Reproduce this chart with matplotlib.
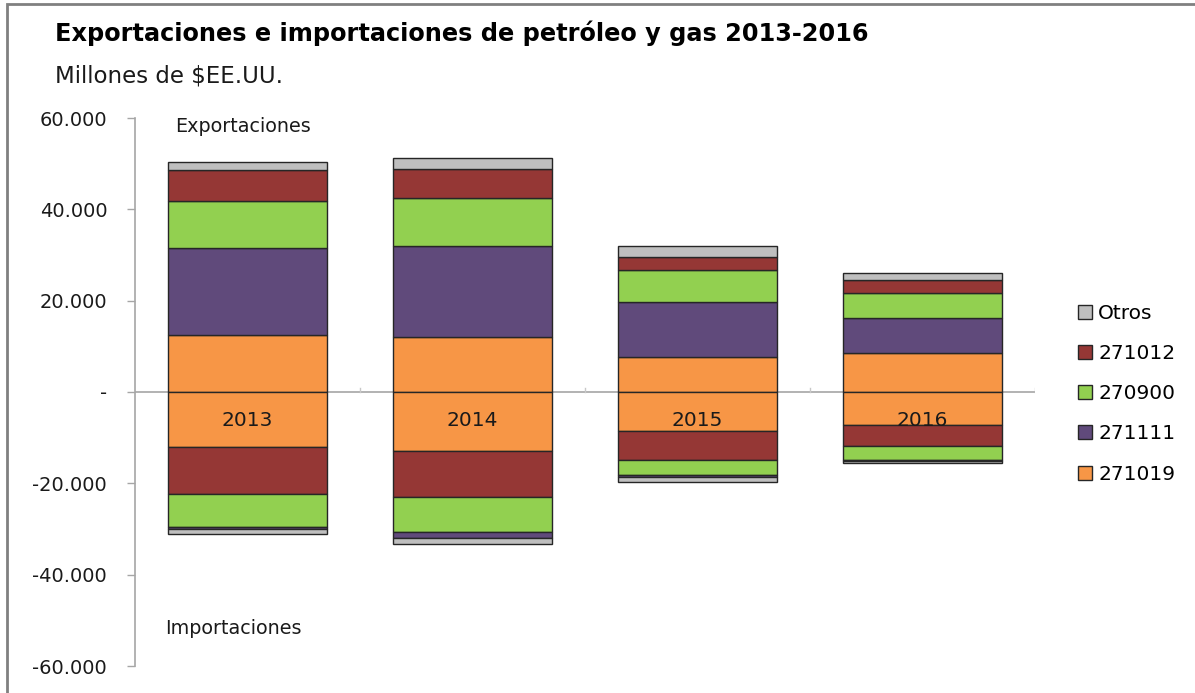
import matplotlib
matplotlib.use("Agg")
import matplotlib.pyplot as plt
from matplotlib.ticker import FuncFormatter
from matplotlib.patches import Rectangle

years = ["2013", "2014", "2015", "2016"]
series = ["271019", "271111", "270900", "271012", "Otros"]
colors = {"271019": "#F79646", "271111": "#604A7B", "270900": "#92D050",
          "271012": "#953735", "Otros": "#BFBFBF"}

# Exportaciones (positive), millones de $EE.UU.
exp_271019 = [12500, 12000, 7700, 8500]
exp_271111 = [19000, 20000, 12000, 7700]
exp_270900 = [10300, 10500, 7000, 5500]
exp_271012 = [6800, 6300, 2900, 2800]
exp_otros = [1800, 2400, 2400, 1600]

# Importaciones (negative)
imp_271019 = [-12000, -12900, -8600, -7200]
imp_271012 = [-10300, -10000, -6300, -4600]
imp_270900 = [-7200, -7700, -3300, -3100]
imp_271111 = [-600, -1300, -500, -200]
imp_otros = [-1000, -1400, -1100, -500]

plt.rcParams['font.family'] = ['DejaVu Sans']
fig = plt.figure(figsize=(11.95, 6.93), dpi=100)
ax = fig.add_axes([135/1195, 27/693, 900/1195, 548/693])

x = list(range(len(years)))
w = 0.707
ec = "#262626"
lw = 1.0

pos_stack = [("271019", exp_271019), ("271111", exp_271111), ("270900", exp_270900),
             ("271012", exp_271012), ("Otros", exp_otros)]
neg_stack = [("271019", imp_271019), ("271012", imp_271012), ("270900", imp_270900),
             ("271111", imp_271111), ("Otros", imp_otros)]

handles = {}
bottom = [0]*4
for name, vals in pos_stack:
    b = ax.bar(x, vals, w, bottom=bottom, color=colors[name], edgecolor=ec, linewidth=lw, zorder=3)
    handles[name] = b
    bottom = [bi + vi for bi, vi in zip(bottom, vals)]
bottom = [0]*4
for name, vals in neg_stack:
    ax.bar(x, vals, w, bottom=bottom, color=colors[name], edgecolor=ec, linewidth=lw, zorder=3)
    bottom = [bi + vi for bi, vi in zip(bottom, vals)]

ax.set_xlim(-0.5, 3.5)
ax.set_ylim(-60000, 60000)
ax.set_yticks([-60000, -40000, -20000, 0, 20000, 40000, 60000])

def fmt(v, pos):
    if abs(v) < 1e-9:
        return "-"
    s = f"{int(abs(v)):,}".replace(",", ".")
    return ("-" if v < 0 else "") + s

ax.yaxis.set_major_formatter(FuncFormatter(fmt))
ax.tick_params(axis='y', labelsize=14, colors="#A6A6A6", labelcolor="#1a1a1a",
               length=6, width=1, pad=14, direction='out')
ax.xaxis.set_visible(False)
for s in ["top", "right", "bottom"]:
    ax.spines[s].set_visible(False)
ax.spines["left"].set_color("#A6A6A6")
ax.spines["left"].set_linewidth(1.2)

ax.axhline(0, color="#A6A6A6", linewidth=1.2, zorder=2)
for xb in [0.5, 1.5, 2.5, 3.5]:
    ax.plot([xb, xb], [0, 800], color="#C8C8C8", linewidth=1, zorder=2)

for xi, yr in zip(x, years):
    ax.text(xi, -6200, yr, ha="center", va="center", fontsize=14.5, color="#1a1a1a", zorder=5)

fig.text(175/1195, 1 - 126/693, "Exportaciones", fontsize=13.8, ha="left", va="center", color="#1a1a1a")
fig.text(165/1195, 1 - 628/693, "Importaciones", fontsize=13.8, ha="left", va="center", color="#1a1a1a")

fig.text(55/1195, 1 - 33/693, "Exportaciones e importaciones de petróleo y gas 2013-2016",
         fontsize=17.3, fontweight="bold", ha="left", va="center", color="#000000")
fig.text(55/1195, 1 - 76/693, "Millones de $EE.UU.", fontsize=16.5, ha="left", va="center", color="#1a1a1a")

leg_order = ["Otros", "271012", "270900", "271111", "271019"]
leg = fig.legend([handles[n] for n in leg_order], leg_order, loc="upper left",
                 bbox_to_anchor=(1070/1195, 1 - 296/693), frameon=False, fontsize=14.5,
                 handlelength=0.7, handleheight=0.7, handletextpad=0.3, labelspacing=1.05,
                 borderaxespad=0)

fig.patches.append(Rectangle((7/1195, -0.01), 1.2, 1 - 4/693 + 0.01, transform=fig.transFigure,
                             fill=False, edgecolor="#808080", linewidth=2))

fig.savefig("out.png", dpi=100)
